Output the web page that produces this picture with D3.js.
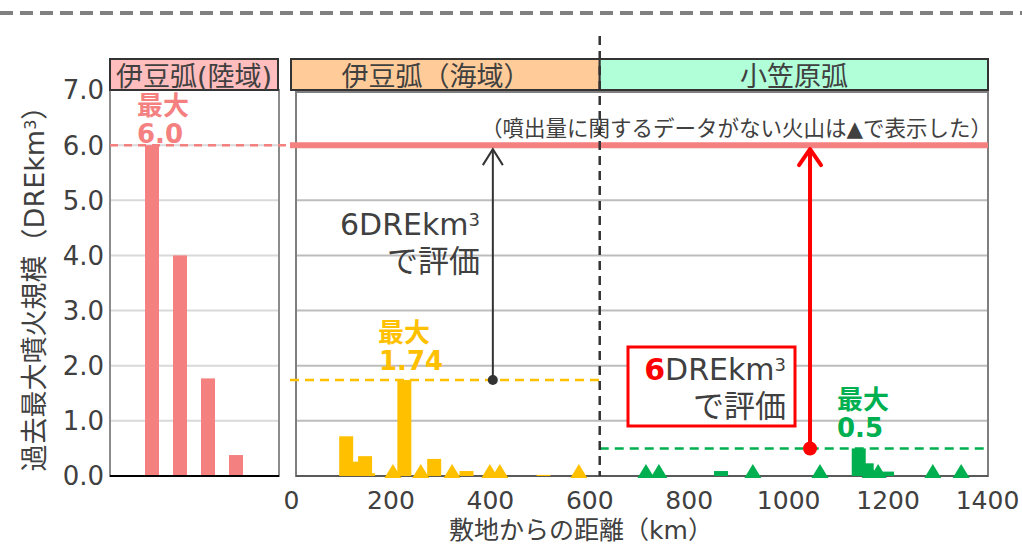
<!DOCTYPE html>
<html><head><meta charset="utf-8">
<script src="https://cdn.jsdelivr.net/npm/d3@7"></script>
<style>body{margin:0;background:#fff} text{font-family:"DejaVu Sans","Noto Sans CJK JP",sans-serif;}</style>
</head><body><svg id="c" width="1022" height="544"></svg>
<script>
// ---- data ----
const yTicks=[0,1,2,3,4,5,6,7];
const xTicks=[0,200,400,600,800,1000,1200,1400];
const landNames=["v1","v2","v3","v4"];
const landValues=[6.0,4.0,1.77,0.38];
const seaBarKm=[111,131,149,155,228,288,353,508];
const seaBarValues=[0.72,0.26,0.36,0.05,1.74,0.31,0.09,0.02];
const seaTriKm=[205,261,324,400,420,579];
const ogaBarKm=[865,1142,1158,1199];
const ogaBarValues=[0.09,0.50,0.23,0.08];
const ogaTriKm=[714,740,929,1064,1165,1181,1291,1348];
const boundaryKm=621;
const maxLand=6.0, maxSea=1.74, maxOga=0.5, evalLevel=6.0;
const blackArrowKm=406, redArrowKm=1044;
const headers=["伊豆弧(陸域)","伊豆弧（海域）","小笠原弧"];

// ---- drawing ----
const svg=d3.select("#c");
const txt="#404040";
const y=d3.scaleLinear().domain([0,7]).range([476,90]);
const x=d3.scaleLinear().domain([0,1400]).range([291,987]);
const xl=d3.scaleBand().domain(landNames).range([138,250]).paddingInner(0.5).paddingOuter(0.25);
const pink="#F4807F", orange="#FFC000", green="#00B050";

// top dashed separator
svg.append("line").attr("x1",0).attr("x2",1022).attr("y1",13).attr("y2",13)
  .attr("stroke","#808080").attr("stroke-width",4).attr("stroke-dasharray","13,7");

// ---- left panel ----
const L=svg.append("g");
L.append("rect").attr("x",110).attr("y",90).attr("width",169).attr("height",386)
  .attr("fill","#fff").attr("stroke","#8c8c8c").attr("stroke-width",2);
L.selectAll(".gl").data(yTicks.filter(d=>d>0&&d<7)).enter().append("line")
  .attr("x1",111).attr("x2",278).attr("y1",d=>y(d)).attr("y2",d=>y(d))
  .attr("stroke","#d9d9d9").attr("stroke-width",2);
L.selectAll(".lb").data(landValues).enter().append("rect")
  .attr("x",(d,i)=>xl(landNames[i])).attr("width",xl.bandwidth())
  .attr("y",d=>y(d)).attr("height",d=>y(0)-y(d)).attr("fill",pink);
L.append("line").attr("x1",110).attr("x2",279).attr("y1",y(0)).attr("y2",y(0))
  .attr("stroke","#000").attr("stroke-width",2);
L.append("line").attr("x1",110).attr("x2",292).attr("y1",y(maxLand)).attr("y2",y(maxLand))
  .attr("stroke",pink).attr("stroke-width",2.5).attr("stroke-dasharray","8,6");
svg.selectAll(".yt").data(yTicks).enter().append("text")
  .attr("x",104).attr("y",d=>y(d)).attr("dy","0.36em").attr("text-anchor","end")
  .attr("font-size",26).attr("fill",txt).text(d=>d.toFixed(1));
L.append("rect").attr("x",110).attr("y",59).attr("width",168).attr("height",31)
  .attr("fill","#FFBDBD").attr("stroke","#333").attr("stroke-width",2);
L.append("text").attr("x",194).attr("y",86).attr("text-anchor","middle")
  .attr("font-size",27).attr("fill",txt).text(headers[0]);
// max label land
const ml=L.append("text").attr("fill",pink).attr("font-weight","bold").attr("font-size",26);
ml.append("tspan").attr("x",137).attr("y",115).attr("font-size",26).text("最大");
ml.append("tspan").attr("x",137).attr("y",143).text(maxLand.toFixed(1));

// ---- main panel ----
const M=svg.append("g");
M.append("rect").attr("x",296).attr("y",92).attr("width",692).attr("height",384)
  .attr("fill","#fff").attr("stroke","#7f7f7f").attr("stroke-width",2);
M.selectAll(".gm").data(yTicks.filter(d=>d>0&&d<7)).enter().append("line")
  .attr("x1",297).attr("x2",987).attr("y1",d=>y(d)).attr("y2",d=>y(d))
  .attr("stroke","#bdbdbd").attr("stroke-width",2);
M.append("line").attr("x1",296).attr("x2",988).attr("y1",y(0)).attr("y2",y(0))
  .attr("stroke","#595959").attr("stroke-width",2);

// headers
M.append("rect").attr("x",291).attr("y",59).attr("width",x(boundaryKm)-291).attr("height",31)
  .attr("fill","#FFCC99").attr("stroke","#333").attr("stroke-width",2);
M.append("rect").attr("x",x(boundaryKm)).attr("y",59).attr("width",988-x(boundaryKm)).attr("height",31)
  .attr("fill","#B0FFD8").attr("stroke","#333").attr("stroke-width",2);
M.append("text").attr("x",436).attr("y",86).attr("text-anchor","middle")
  .attr("font-size",27).attr("fill",txt).text(headers[1]);
M.append("text").attr("x",794).attr("y",86).attr("text-anchor","middle")
  .attr("font-size",27).attr("fill",txt).text(headers[2]);

// evaluation level line
M.append("line").attr("x1",290).attr("x2",988).attr("y1",y(evalLevel)).attr("y2",y(evalLevel))
  .attr("stroke",pink).attr("stroke-width",6);
M.append("text").attr("x",992).attr("y",136).attr("text-anchor","end")
  .attr("font-size",21.5).attr("fill",txt).text("（噴出量に関するデータがない火山は▲で表示した）");

// max dashed lines
M.append("line").attr("x1",290).attr("x2",x(boundaryKm)).attr("y1",y(maxSea)).attr("y2",y(maxSea))
  .attr("stroke",orange).attr("stroke-width",2.5).attr("stroke-dasharray","9,6");
M.append("line").attr("x1",x(boundaryKm)).attr("x2",988).attr("y1",y(maxOga)).attr("y2",y(maxOga))
  .attr("stroke",green).attr("stroke-width",2.5).attr("stroke-dasharray","9,6");

// bars
const bw=14;
M.selectAll(".sb").data(seaBarValues).enter().append("rect")
  .attr("x",(d,i)=>x(seaBarKm[i])-bw/2).attr("width",bw)
  .attr("y",d=>y(d)).attr("height",d=>y(0)-y(d)).attr("fill",orange);
M.selectAll(".ob").data(ogaBarValues).enter().append("rect")
  .attr("x",(d,i)=>x(ogaBarKm[i])-bw/2).attr("width",bw)
  .attr("y",d=>y(d)).attr("height",d=>y(0)-y(d)).attr("fill",green);
// triangles
const tri=k=>{const cx=x(k),b=y(0)+2;return `M${cx-8.5},${b}L${cx+8.5},${b}L${cx},${b-14}Z`;};
M.selectAll(".st").data(seaTriKm).enter().append("path").attr("d",tri).attr("fill",orange);
M.selectAll(".ot").data(ogaTriKm).enter().append("path").attr("d",tri).attr("fill",green);

// boundary dashed line
M.append("line").attr("x1",x(boundaryKm)).attr("x2",x(boundaryKm)).attr("y1",36).attr("y2",y(0))
  .attr("stroke","#333").attr("stroke-width",2.5).attr("stroke-dasharray","9,6");

// black arrow
const bx=x(blackArrowKm);
M.append("line").attr("x1",bx).attr("x2",bx).attr("y1",y(maxSea)).attr("y2",y(evalLevel)+4)
  .attr("stroke","#333").attr("stroke-width",2);
M.append("path").attr("d",`M${bx-10},${y(evalLevel)+20}L${bx},${y(evalLevel)+4}L${bx+10},${y(evalLevel)+20}`)
  .attr("fill","none").attr("stroke","#333").attr("stroke-width",2);
M.append("circle").attr("cx",bx).attr("cy",y(maxSea)).attr("r",5).attr("fill","#333");
const t1=M.append("text").attr("text-anchor","end").attr("font-size",30).attr("fill",txt);
t1.append("tspan").attr("x",480).attr("y",235).text("6DREkm");
t1.append("tspan").attr("font-size",18).attr("dy",-9).text("3");
M.append("text").attr("x",480).attr("y",272).attr("text-anchor","end")
  .attr("font-size",31).attr("fill",txt).text("で評価");

// red box + arrow
M.append("rect").attr("x",628).attr("y",347).attr("width",167).attr("height",79)
  .attr("fill","#fff").attr("stroke","#FF0000").attr("stroke-width",3);
const t2=M.append("text").attr("text-anchor","end").attr("font-size",30).attr("fill",txt);
t2.append("tspan").attr("x",786).attr("y",380).attr("fill","#FF0000").attr("font-weight","bold").text("6");
t2.append("tspan").text("DREkm");
t2.append("tspan").attr("font-size",18).attr("dy",-9).text("3");
M.append("text").attr("x",786).attr("y",417).attr("text-anchor","end")
  .attr("font-size",31).attr("fill",txt).text("で評価");
const rx=x(redArrowKm);
M.append("line").attr("x1",rx).attr("x2",rx).attr("y1",y(maxOga)).attr("y2",y(evalLevel)+4)
  .attr("stroke","#FF0000").attr("stroke-width",4);
M.append("path").attr("d",`M${rx-11},${y(evalLevel)+20}L${rx},${y(evalLevel)+4}L${rx+11},${y(evalLevel)+20}`)
  .attr("fill","none").attr("stroke","#FF0000").attr("stroke-width",4).attr("stroke-linecap","round").attr("stroke-linejoin","round");
M.append("circle").attr("cx",rx).attr("cy",y(maxOga)).attr("r",7).attr("fill","#FF0000");

// max labels
const ms=M.append("text").attr("fill",orange).attr("font-weight","bold").attr("font-size",26);
ms.append("tspan").attr("x",378).attr("y",342).attr("font-size",26).text("最大");
ms.append("tspan").attr("x",379).attr("y",370).text(maxSea.toFixed(2));
const mo=M.append("text").attr("fill",green).attr("font-weight","bold").attr("font-size",26);
mo.append("tspan").attr("x",837).attr("y",409).attr("font-size",26).text("最大");
mo.append("tspan").attr("x",837).attr("y",437).text(maxOga.toFixed(1));

// x axis
const ax=M.append("g").attr("transform",`translate(0,${y(0)})`)
  .call(d3.axisBottom(x).tickValues(xTicks).tickSize(0).tickPadding(15).tickFormat(d3.format("d")));
ax.select(".domain").remove();
ax.selectAll("text").attr("font-size",25).attr("fill",txt)
  .style("font-family",'"DejaVu Sans","Noto Sans CJK JP",sans-serif');
svg.append("text").attr("x",581).attr("y",539).attr("text-anchor","middle")
  .attr("font-size",25).attr("fill",txt).text("敷地からの距離（km）");

// y axis title
const yt=svg.append("text").attr("transform","translate(44,282) rotate(-90)")
  .attr("text-anchor","middle").attr("font-size",27).attr("fill",txt);
yt.append("tspan").text("過去最大噴火規模（DREkm");
yt.append("tspan").attr("font-size",16).attr("dy",-8).text("3");
yt.append("tspan").attr("dy",8).text("）");
</script></body></html>
